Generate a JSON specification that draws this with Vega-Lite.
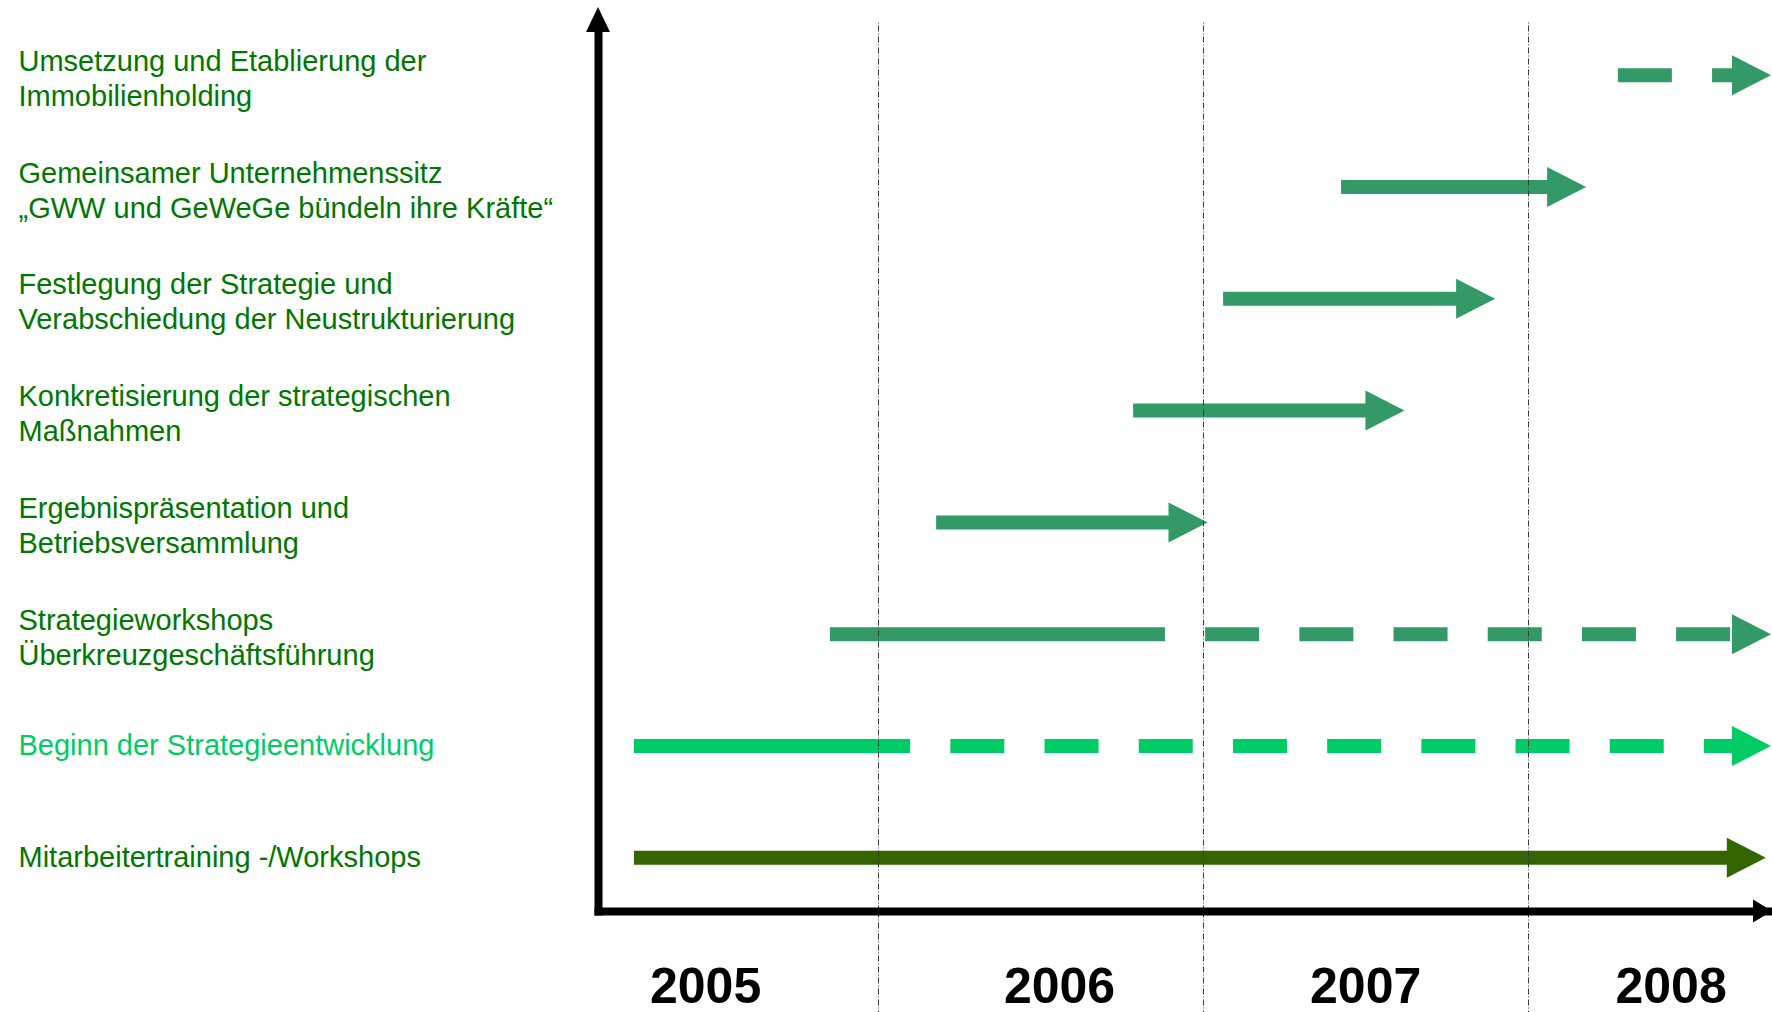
{
  "$schema": "https://vega.github.io/schema/vega-lite/v6.json",
  "width": 1174,
  "height": 889,
  "autosize": {"type": "none"},
  "padding": {"left": 598, "top": 22, "right": 0, "bottom": 101},
  "background": "white",
  "config": {"view": {"stroke": null}},
  "data": {
    "values": [
      {"task": "Umsetzung und Etablierung der\nImmobilienholding", "group": "Strategie", "start": 2008.152, "solid_end": 2008.152, "end": 2008.687},
      {"task": "Gemeinsamer Unternehmenssitz\n„GWW und GeWeGe bündeln ihre Kräfte“", "group": "Strategie", "start": 2007.424, "solid_end": 2008.118, "end": 2008.118},
      {"task": "Festlegung der Strategie und\nVerabschiedung der Neustrukturierung", "group": "Strategie", "start": 2007.061, "solid_end": 2007.838, "end": 2007.838},
      {"task": "Konkretisierung der strategischen\nMaßnahmen", "group": "Strategie", "start": 2006.784, "solid_end": 2007.559, "end": 2007.559},
      {"task": "Ergebnispräsentation und\nBetriebsversammlung", "group": "Strategie", "start": 2006.178, "solid_end": 2006.953, "end": 2006.953},
      {"task": "Strategieworkshops\nÜberkreuzgeschäftsführung", "group": "Strategie", "start": 2005.851, "solid_end": 2006.882, "end": 2008.687},
      {"task": "Beginn der Strategieentwicklung", "group": "Beginn", "start": 2005.248, "solid_end": 2006.098, "end": 2008.687},
      {"task": "Mitarbeitertraining -/Workshops", "group": "Mitarbeiter", "start": 2005.248, "solid_end": 2008.671, "end": 2008.671}
    ]
  },
  "encoding": {
    "y": {
      "field": "task",
      "type": "nominal",
      "sort": null,
      "scale": {"type": "point", "padding": 0.476},
      "axis": {
        "title": null,
        "ticks": false,
        "tickSize": 0,
        "grid": false,
        "domain": true,
        "domainColor": "black",
        "domainWidth": 8,
        "domainCap": "square",
        "labelAlign": "left",
        "labelBaseline": "middle",
        "labelPadding": 580,
        "labelFont": "Liberation Sans",
        "labelFontSize": 29,
        "labelLineHeight": 35,
        "labelLimit": 0,
        "labelOverlap": false,
        "labelOffset": {"condition": {"test": "indexof(datum.value, '\\n') >= 0", "value": -14}, "value": 0},
        "labelColor": {"condition": {"test": "datum.value == 'Beginn der Strategieentwicklung'", "value": "#00CC66"}, "value": "#007700"},
        "labelExpr": "split(datum.label, '\\n')"
      }
    }
  },
  "layer": [
    {
      "mark": {"type": "rule", "strokeWidth": 14, "strokeCap": "butt"},
      "encoding": {
        "x": {
          "field": "start",
          "type": "quantitative",
          "scale": {"domain": [2005.1375, 2008.75], "nice": false, "zero": false},
          "axis": {
            "title": null,
            "orient": "bottom",
            "values": [2005.467, 2006, 2006.556, 2007, 2007.498, 2008, 2008.438],
            "domain": true,
            "domainColor": "black",
            "domainWidth": 8,
            "domainCap": "square",
            "labelExpr": "datum.value % 1 ? toString(floor(datum.value)) : ''",
            "labelFont": "Liberation Sans",
            "labelFontSize": 50,
            "labelFontWeight": "bold",
            "labelColor": "black",
            "labelBaseline": "alphabetic",
            "labelPadding": -10,
            "labelFlush": false,
            "labelOverlap": false,
            "labelBound": false,
            "ticks": true,
            "tickSize": 101,
            "tickColor": "#3a3a3a",
            "tickWidth": 1,
            "tickDash": [6, 2, 1, 2],
            "tickOpacity": {"condition": {"test": "datum.value % 1 == 0", "value": 1}, "value": 0},
            "grid": true,
            "gridColor": "#3a3a3a",
            "gridWidth": 1,
            "gridDash": [6, 2, 1, 2],
            "gridOpacity": {"condition": {"test": "datum.value % 1 == 0", "value": 1}, "value": 0},
            "zindex": 1
          }
        },
        "x2": {"field": "solid_end"},
        "color": {
          "field": "group",
          "type": "nominal",
          "scale": {"domain": ["Strategie", "Beginn", "Mitarbeiter"], "range": ["#339966", "#00CC66", "#336600"]},
          "legend": null
        }
      }
    },
    {
      "mark": {"type": "rule", "strokeWidth": 14, "strokeCap": "butt", "strokeDash": [54, 40.2], "strokeDashOffset": 54},
      "encoding": {
        "x": {"field": "solid_end", "type": "quantitative"},
        "x2": {"field": "end"},
        "color": {"field": "group", "type": "nominal", "legend": null}
      }
    },
    {
      "mark": {"type": "point", "shape": "M-0.975,-1L0.975,0L-0.975,1Z", "size": 1600, "filled": true, "opacity": 1, "strokeWidth": 0},
      "encoding": {
        "x": {"field": "end", "type": "quantitative"},
        "color": {"field": "group", "type": "nominal", "legend": null}
      }
    },
    {
      "data": {"values": [{"axis": "y"}]},
      "mark": {"type": "point", "shape": "M0,-1.2L0.96,0.8L-0.96,0.8Z", "size": 625, "filled": true, "opacity": 1, "strokeWidth": 0, "color": "black"},
      "encoding": {
        "x": {"value": 0},
        "y": {"value": 0}
      }
    },
    {
      "data": {"values": [{"axis": "x"}]},
      "mark": {"type": "point", "shape": "M0,0L-1.65,-1L-1.65,1Z", "size": 529, "filled": true, "opacity": 1, "strokeWidth": 0, "color": "black"},
      "encoding": {
        "x": {"value": {"expr": "width"}},
        "y": {"value": {"expr": "height"}}
      }
    }
  ]
}
